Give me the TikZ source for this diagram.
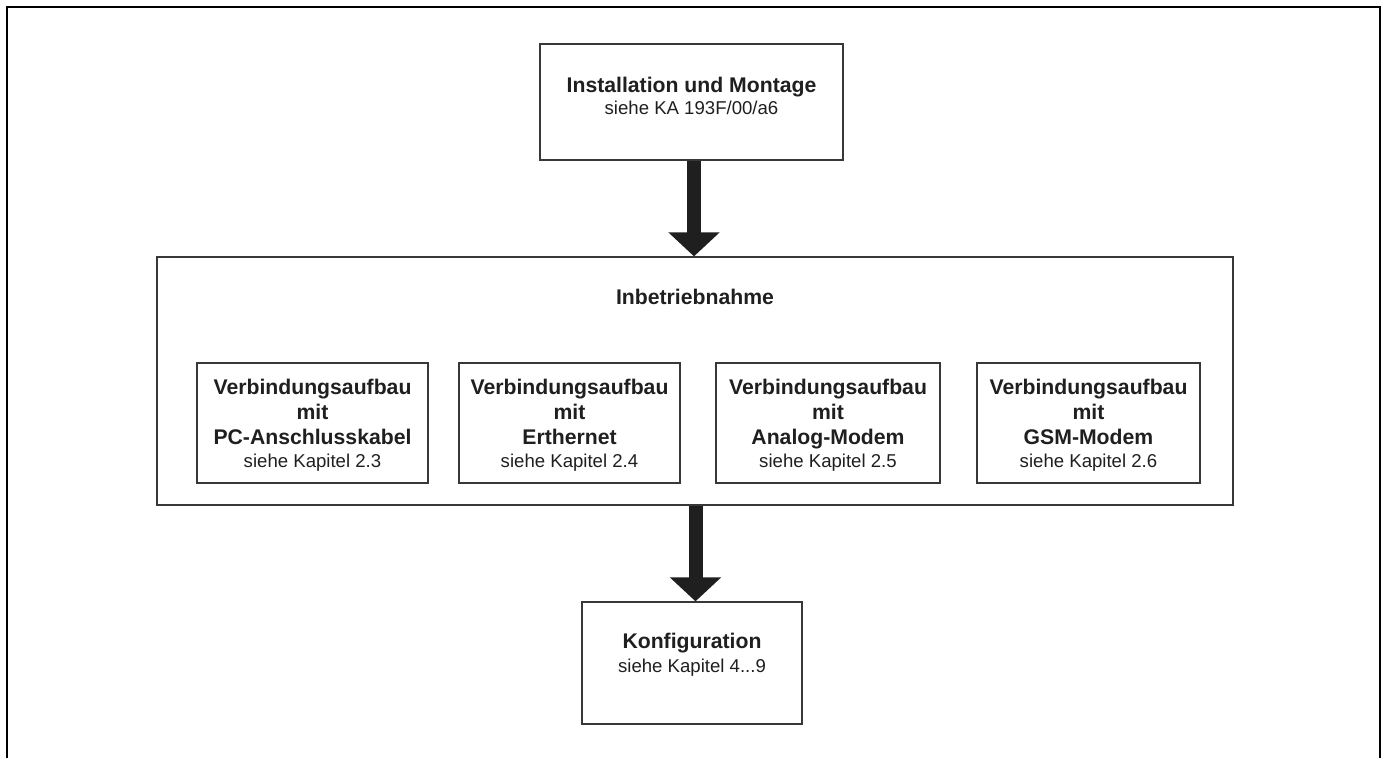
\documentclass[tikz,border=0pt]{standalone}
\usepackage{fontspec}
\setmainfont{Liberation Sans}
\usetikzlibrary{arrows.meta}
\begin{document}
\begin{tikzpicture}[x=1pt,y=-1pt,
 box/.style={draw=black!78, line width=1.3pt, inner sep=0pt},
 bf/.style={font=\fontsize{21.2}{25}\selectfont\bfseries, anchor=base, inner sep=0pt, text=black!88},
 rg/.style={font=\fontsize{18.6}{22}\selectfont, anchor=base, inner sep=0pt, text=black!88},
 bigarrow/.style={line width=14pt, draw=black!88, -{Triangle[width=50pt,length=24pt]}}]
\useasboundingbox (0,0) rectangle (1382,758);
\draw[line width=2.3pt] (7,758) -- (7,7) -- (1380,7) -- (1380,758);

% boxes
\node[box, minimum width=303pt, minimum height=116pt] (top) at (691.5,102) {};
\node[box, minimum width=1076pt, minimum height=248pt] (inb) at (695,381) {};
\node[box, minimum width=231pt, minimum height=120pt] (b1) at (312.5,423) {};
\node[box, minimum width=221pt, minimum height=120pt] (b2) at (569.5,423) {};
\node[box, minimum width=224pt, minimum height=120pt] (b3) at (828,423) {};
\node[box, minimum width=223pt, minimum height=120pt] (b4) at (1088.5,423) {};
\node[box, minimum width=220pt, minimum height=122pt] (konf) at (692,663) {};

% texts
\node[bf] (t1) at (691.5,92) {Installation und Montage};
\node[rg] (t2) at (691.5,114) {siehe KA 193F/00/a6};
\node[bf] (ti) at (695,304) {Inbetriebnahme};

\node[bf] (b1a) at (312.5,394) {Verbindungsaufbau};
\node[bf] (b1b) at (312.5,419) {mit};
\node[bf] (b1c) at (312.5,444) {PC-Anschlusskabel};
\node[rg] (b1d) at (312.5,467) {siehe Kapitel 2.3};

\node[bf] (b2a) at (569.5,394) {Verbindungsaufbau};
\node[bf] (b2b) at (569.5,419) {mit};
\node[bf] (b2c) at (569.5,444) {Erthernet};
\node[rg] (b2d) at (569.5,467) {siehe Kapitel 2.4};

\node[bf] (b3a) at (828,394) {Verbindungsaufbau};
\node[bf] (b3b) at (828,419) {mit};
\node[bf] (b3c) at (828,444) {Analog-Modem};
\node[rg] (b3d) at (828,467) {siehe Kapitel 2.5};

\node[bf] (b4a) at (1088.5,394) {Verbindungsaufbau};
\node[bf] (b4b) at (1088.5,419) {mit};
\node[bf] (b4c) at (1088.5,444) {GSM-Modem};
\node[rg] (b4d) at (1088.5,467) {siehe Kapitel 2.6};

\node[bf] (k1) at (692,648) {Konfiguration};
\node[rg] (k2) at (692,672) {siehe Kapitel 4...9};

% arrows
\coordinate (a1s) at ([xshift=2.5pt]top.south);
\coordinate (a1e) at ([xshift=-1pt]inb.north);
\draw[bigarrow] (a1s) -- (a1e);
\coordinate (a2s) at ([xshift=3.5pt]konf.north |- inb.south);
\coordinate (a2e) at ([xshift=3.5pt]konf.north);
\draw[bigarrow] (a2s) -- (a2e);
\end{tikzpicture}
\end{document}
